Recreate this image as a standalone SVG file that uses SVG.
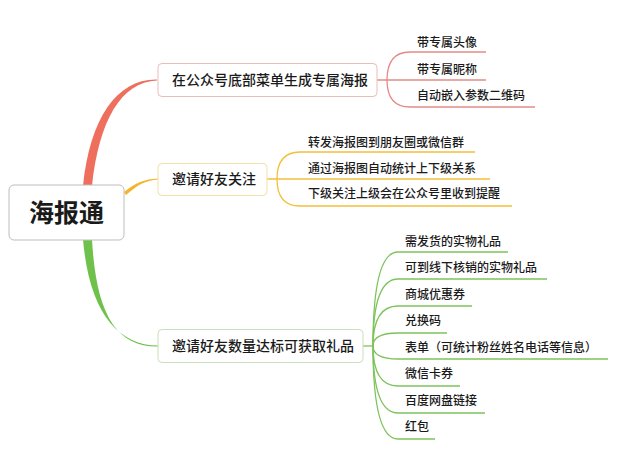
<svg xmlns="http://www.w3.org/2000/svg" width="640" height="467" viewBox="0 0 640 467">
<style>
text{font-family:"Noto Sans CJK SC","Microsoft YaHei",sans-serif;fill:#1a1a1a}
.leaf{font-size:12px;font-weight:500}
.br{font-size:14px;font-weight:500}
.root{font-size:25px;font-weight:bold}
.r{stroke:#e38a86;fill:none;stroke-width:1.3}
.o{stroke:#f3bf3c;fill:none;stroke-width:1.3}
.g{stroke:#7dc35c;fill:none;stroke-width:1.3}
</style>
<rect width="640" height="467" fill="#ffffff"/>
<g id="connectors">
<path d="M83,186 C90,118 117,78.6 157,79.4 L157,80.6 C121,82 99,121 92,186 Z" fill="#ef6f5e"/>
<path d="M124,192 C136,183 144,179.2 158,178.6 L158,179.6 C145,180.5 138,185 126,195 Z" fill="#f4b52c"/>
<path d="M83,239 C89,312 118,345.3 158,345.6 L158,346.5 C116,347 96,314 92,239 Z" fill="#6ec24b"/>
<path class="r" d="M377,80 L486,80"/>
<path class="r" d="M387,80 Q387,52 410,52 L486,52"/>
<path class="r" d="M387,80 Q387,107 410,107 L535,107"/>
<path class="o" d="M267,179 L490,179"/>
<path class="o" d="M277,179 Q277,152 300,152 L475,152"/>
<path class="o" d="M277,179 Q277,206 300,206 L512,206"/>
<path class="g" d="M363,346 L373,346"/>
<path class="g" d="M373,346 Q373,252 398,252 L508,252"/>
<path class="g" d="M373,346 Q373,279 398,279 L547,279"/>
<path class="g" d="M373,346 Q373,306 398,306 L472,306"/>
<path class="g" d="M373,346 Q373,333 398,333 L447,333"/>
<path class="g" d="M373,346 Q373,359 398,359 L608,359"/>
<path class="g" d="M373,346 Q373,386 398,386 L460,386"/>
<path class="g" d="M373,346 Q373,413 398,413 L485,413"/>
<path class="g" d="M373,346 Q373,439 398,439 L435,439"/>
</g>
<g id="root">
<rect x="9" y="185" width="115" height="55" rx="5" fill="#fff" stroke="#bdbdbd" stroke-width="1"/>
<text class="root" x="66.5" y="222" text-anchor="middle">海报通</text>
</g>
<g id="b1">
<rect x="158" y="63.5" width="219" height="33" rx="4" fill="#fff" stroke="#ebbcb8" stroke-width="1"/>
<text class="br" x="172" y="85">在公众号底部菜单生成专属海报</text>
</g>
<g id="b2">
<rect x="158" y="163.5" width="109" height="32" rx="4" fill="#fff" stroke="#f3e0a6" stroke-width="1"/>
<text class="br" x="172" y="184">邀请好友关注</text>
</g>
<g id="b3">
<rect x="158" y="329.5" width="205" height="33" rx="4" fill="#fff" stroke="#c8e0bb" stroke-width="1"/>
<text class="br" x="172" y="351">邀请好友数量达标可获取礼品</text>
</g>
<g id="b1c1"><text class="leaf" x="417" y="46.5">带专属头像</text></g>
<g id="b1c2"><text class="leaf" x="417" y="73.5">带专属昵称</text></g>
<g id="b1c3"><text class="leaf" x="417" y="100">自动嵌入参数二维码</text></g>
<g id="b2c1"><text class="leaf" x="308" y="146.5">转发海报图到朋友圈或微信群</text></g>
<g id="b2c2"><text class="leaf" x="308" y="173">通过海报图自动统计上下级关系</text></g>
<g id="b2c3"><text class="leaf" x="308" y="198">下级关注上级会在公众号里收到提醒</text></g>
<g id="b3c1"><text class="leaf" x="405" y="245.5">需发货的实物礼品</text></g>
<g id="b3c2"><text class="leaf" x="405" y="272">可到线下核销的实物礼品</text></g>
<g id="b3c3"><text class="leaf" x="405" y="298.5">商城优惠券</text></g>
<g id="b3c4"><text class="leaf" x="405" y="325">兑换码</text></g>
<g id="b3c5"><text class="leaf" x="405" y="351.5">表单（可统计粉丝姓名电话等信息）</text></g>
<g id="b3c6"><text class="leaf" x="405" y="378">微信卡券</text></g>
<g id="b3c7"><text class="leaf" x="405" y="404.5">百度网盘链接</text></g>
<g id="b3c8"><text class="leaf" x="405" y="431">红包</text></g>
</svg>
